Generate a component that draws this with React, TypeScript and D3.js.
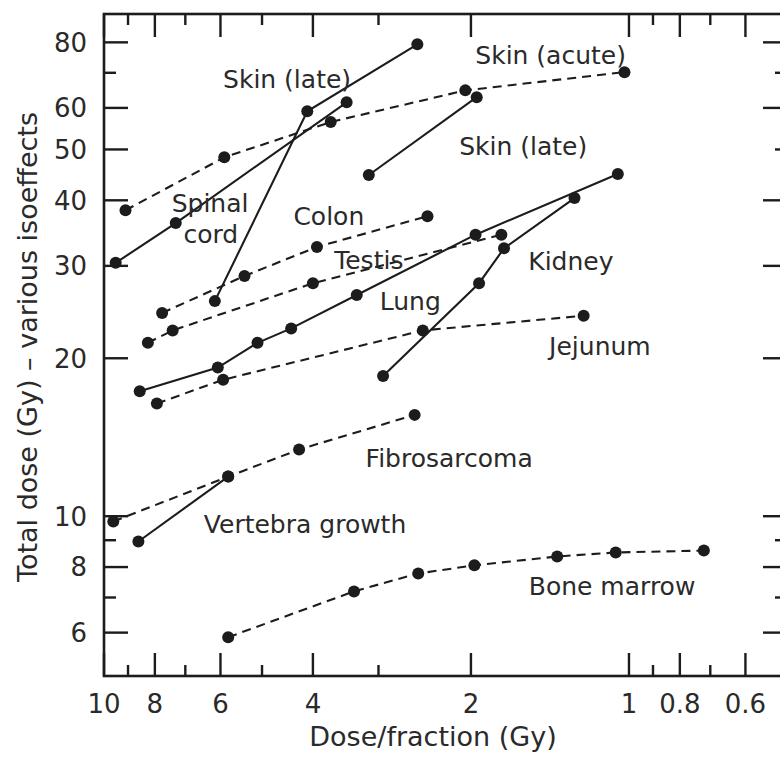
import React from "react";
import * as d3 from "d3";

// dose per fraction (Gy), total dose (Gy)
const spinalCord = [[9.5, 30.4], [7.3, 36.2], [3.45, 61.5]];
const skinLateA = [[6.15, 25.7], [4.1, 59.1], [2.53, 79.3]];
const skinLateB = [[3.13, 44.7], [1.95, 62.9]];
const skinAcute = [[9.1, 38.3], [5.9, 48.3], [3.7, 56.4], [2.05, 64.8], [1.02, 70.2]];
const colon = [[7.75, 24.4], [5.4, 28.7], [3.93, 32.6], [2.42, 37.3]];
const testis = [[8.25, 21.4], [7.4, 22.6], [4.0, 27.8], [1.75, 34.4]];
const lung = [[8.55, 17.3], [6.07, 19.2], [5.1, 21.4], [4.4, 22.8], [3.3, 26.4], [1.96, 34.4], [1.05, 44.9]];
const kidney = [[2.94, 18.5], [1.93, 27.8], [1.73, 32.4], [1.27, 40.4]];
const jejunum = [[7.93, 16.4], [5.93, 18.2], [2.47, 22.6], [1.22, 24.1]];
const fibrosarcoma = [[9.6, 9.77], [5.8, 11.9], [4.25, 13.4], [2.56, 15.6]];
const vertebra = [[8.6, 8.95], [5.8, 11.9]];
const boneMarrow = [[5.8, 5.88], [3.34, 7.19], [2.52, 7.78], [1.97, 8.06], [1.37, 8.38], [1.06, 8.53], [0.72, 8.6]];

const series = [
  { data: spinalCord, dashed: false },
  { data: skinLateA, dashed: false },
  { data: skinLateB, dashed: false },
  { data: skinAcute, dashed: true },
  { data: colon, dashed: true },
  { data: testis, dashed: true },
  { data: lung, dashed: false },
  { data: kidney, dashed: false },
  { data: jejunum, dashed: true },
  { data: fibrosarcoma, dashed: true },
  { data: vertebra, dashed: false },
  { data: boneMarrow, dashed: true },
];

// label text and where it sits, in data units (dose, total dose)
const labelText = ["Skin (late)", "Skin (acute)", "Skin (late)", "Spinal", "cord", "Colon", "Testis", "Lung", "Kidney", "Jejunum", "Fibrosarcoma", "Vertebra growth", "Bone marrow"];
const labelAt = [[4.48, 65.4], [1.41, 72.9], [1.59, 48.8], [6.28, 38.0], [6.26, 33.2], [3.73, 35.9], [3.13, 29.6], [2.61, 24.7], [1.29, 29.5], [1.136, 20.3], [2.2, 12.4], [4.14, 9.31], [1.077, 7.09]];

const xMajor = [10, 8, 6, 4, 2, 1, 0.8, 0.6];
const xMinor = [9, 7, 5, 3, 0.9, 0.7];
const yMajorLeft = [80, 60, 50, 40, 30, 20, 10, 8, 6];
const yMinorLeft = [70, 9, 7];
const yMajorRight = [80, 60, 40, 30, 20, 10, 8, 6];
const yMinorRight = [70, 50, 9, 7];
const yLabels = [80, 60, 50, 40, 30, 20, 10, 8, 6];

const W = 780, H = 761;
const ink = "#1c1c1c";
const textInk = "#2a2a2a";
const font = "'DejaVu Sans', sans-serif";

export default function App() {
  const x = d3.scaleLog().domain([10, 0.5]).range([104, 787]);
  const y = d3.scaleLog().domain([4.96, 90.6]).range([676, 14]);
  const [x0, x1] = x.range();
  const [y0, y1] = y.range();

  const line = d3
    .line<number[]>()
    .x(d => x(d[0]))
    .y(d => y(d[1]));

  const tickW = 2.4;

  return (
    <svg width={W} height={H} style={{ position: "absolute", left: 0, top: 0, background: "#fff" }}>
      {/* frame */}
      <rect x={x0} y={y1} width={x1 - x0} height={y0 - y1} fill="none" stroke={ink} strokeWidth={2.6} />

      {/* x ticks bottom and top */}
      {xMajor.map(v => (
        <g key={"xM" + v} stroke={ink} strokeWidth={tickW}>
          <line x1={x(v)} x2={x(v)} y1={y0} y2={y0 - 23} />
          <line x1={x(v)} x2={x(v)} y1={y1} y2={y1 + 23} />
        </g>
      ))}
      {xMinor.map(v => (
        <g key={"xm" + v} stroke={ink} strokeWidth={tickW}>
          <line x1={x(v)} x2={x(v)} y1={y0} y2={y0 - 11} />
          <line x1={x(v)} x2={x(v)} y1={y1} y2={y1 + 11} />
        </g>
      ))}
      {xMajor.map(v => (
        <text key={"xl" + v} x={x(v)} y={713} textAnchor="middle" fontFamily={font} fontSize={26} fill={textInk}>
          {String(v)}
        </text>
      ))}

      {/* y ticks left and right */}
      {yMajorLeft.map(v => (
        <line key={"yL" + v} x1={x0} x2={x0 + 24} y1={y(v)} y2={y(v)} stroke={ink} strokeWidth={tickW} />
      ))}
      {yMinorLeft.map(v => (
        <line key={"yl" + v} x1={x0} x2={x0 + 12} y1={y(v)} y2={y(v)} stroke={ink} strokeWidth={tickW} />
      ))}
      {yMajorRight.map(v => (
        <line key={"yR" + v} x1={x1} x2={x1 - 24} y1={y(v)} y2={y(v)} stroke={ink} strokeWidth={tickW} />
      ))}
      {yMinorRight.map(v => (
        <line key={"yr" + v} x1={x1} x2={x1 - 12} y1={y(v)} y2={y(v)} stroke={ink} strokeWidth={tickW} />
      ))}
      {yLabels.map(v => (
        <text key={"ylab" + v} x={87} y={y(v)} dy="0.36em" textAnchor="end" fontFamily={font} fontSize={26} fill={textInk}>
          {v}
        </text>
      ))}

      {/* axis titles */}
      <text x={433} y={746} textAnchor="middle" fontFamily={font} fontSize={27} fill={textInk}>
        Dose/fraction (Gy)
      </text>
      <text transform={`translate(37, 347) rotate(-90)`} textAnchor="middle" fontFamily={font} fontSize={27} fill={textInk}>
        Total dose (Gy) – various isoeffects
      </text>

      {/* curves */}
      {series.map((s, i) => (
        <g key={"s" + i}>
          <path d={line(s.data) || ""} fill="none" stroke={ink} strokeWidth={2.1} strokeDasharray={s.dashed ? "9 6" : undefined} />
          {s.data.map((d, j) => (
            <circle key={j} cx={x(d[0])} cy={y(d[1])} r={6} fill={ink} />
          ))}
        </g>
      ))}

      {/* curve labels */}
      {labelText.map((t, i) => (
        <text key={"lab" + i} x={x(labelAt[i][0])} y={y(labelAt[i][1])} textAnchor="middle" fontFamily={font} fontSize={25} fill={textInk}>
          {t}
        </text>
      ))}
    </svg>
  );
}
